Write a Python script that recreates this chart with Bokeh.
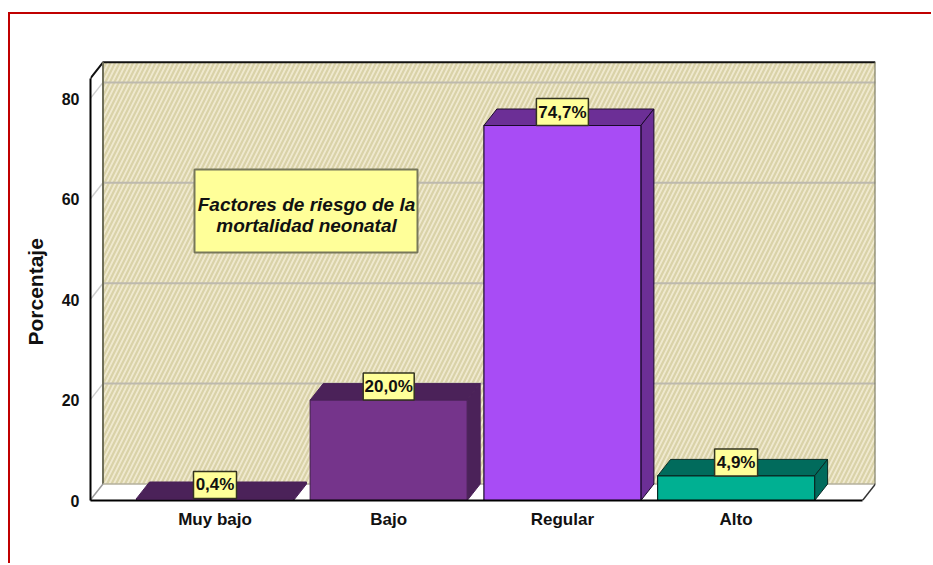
from bokeh.plotting import figure
from bokeh.models import Range1d, FixedTicker, Title
from bokeh.core.properties import value
from bokeh.embed import file_html
from bokeh.resources import INLINE

categories = ["Muy bajo", "Bajo", "Regular", "Alto"]
percent = [0.4, 20.0, 74.7, 4.9]
labels = ["0,4%", "20,0%", "74,7%", "4,9%"]
front_colors = ["#75348b", "#75348b", "#a84cf5", "#00b092"]
shade_colors = ["#4b2259", "#4b2259", "#6c2f96", "#016b5c"]
edge_colors = ["#4b2259", "#4b2259", "#1a0a2a", "#0a2a25"]
y_ticks = [0, 20, 40, 60, 80]
title_lines = ["Factores de riesgo de la", "mortalidad neonatal"]

# scale set-up: pixels per data unit
PX_X, PX_Y = 173.7, 5.02
X0_PX, FRAME_L, FRAME_R, FRAME_T, FRAME_B = 214.5, 90, 875, 60, 500
xs_lo, xs_hi = (FRAME_L - X0_PX) / PX_X, (FRAME_R - X0_PX) / PX_X
y_hi = (FRAME_B - FRAME_T) / PX_Y
DX, DY = 13 / PX_X, 16.5 / PX_Y       # 3D depth
HALF = 78.5 / PX_X
WALL_TOP = 84.0
X_LEFT = (89.5 - X0_PX) / PX_X
X_RIGHT = (862 - X0_PX) / PX_X

OX, OY = 10, 14          # page position of the canvas, inside the red border
FW, FH = 923, 551
p = figure(width=FW, height=FH, output_backend="svg", toolbar_location=None,
           x_range=Range1d(xs_lo, xs_hi), y_range=Range1d(0, y_hi),
           min_border_left=FRAME_L - OX, min_border_right=FW - (FRAME_R - OX),
           min_border_top=FRAME_T - OY, min_border_bottom=FH - (FRAME_B - OY),
           background_fill_color="white", border_fill_color="white")
p.styles = {"margin-left": "8px", "margin-top": "12px",
            "border-left": "2px solid #c00000", "border-top": "2px solid #c00000"}
p.outline_line_color = None
p.grid.visible = False

# axes
p.yaxis.ticker = FixedTicker(ticks=y_ticks)
p.yaxis.bounds = (0, WALL_TOP)
p.yaxis.major_label_text_font = "Liberation Sans"
p.yaxis.major_label_text_font_size = "16px"
p.yaxis.major_label_text_font_style = "bold"
p.yaxis.major_label_text_color = "#111111"
p.yaxis.major_label_standoff = 5
p.yaxis.major_tick_line_color = None
p.yaxis.minor_tick_line_color = None
p.yaxis.axis_line_color = "black"
p.yaxis.axis_line_width = 2

p.xaxis.ticker = FixedTicker(ticks=list(range(len(categories))))
p.xaxis.major_label_overrides = {i: c for i, c in enumerate(categories)}
p.xaxis.bounds = (X_LEFT, X_RIGHT)
p.xaxis.major_label_text_font = "Liberation Sans"
p.xaxis.major_label_text_font_size = "17px"
p.xaxis.major_label_text_font_style = "bold"
p.xaxis.major_label_text_color = "#111111"
p.xaxis.major_label_standoff = 3
p.xaxis.major_tick_line_color = None
p.xaxis.minor_tick_line_color = None
p.xaxis.axis_line_color = "black"
p.xaxis.axis_line_width = 2

# back wall
wall_l, wall_r = X_LEFT + DX, X_RIGHT + DX
wall_b, wall_t = DY, WALL_TOP + DY
p.quad(left=[wall_l], right=[wall_r], bottom=[wall_b], top=[wall_t],
       fill_color="#efe9cf", line_color=None,
       hatch_pattern="right_diagonal_line", hatch_color="#d9d2a8",
       hatch_weight=2.2, hatch_scale=9)

# gridlines on the wall and on the left side
g = [t for t in y_ticks if t > 0]
p.segment([wall_l] * len(g), [t + DY for t in g], [wall_r] * len(g), [t + DY for t in g],
          line_color="#bdb9ae", line_width=2)
p.segment([X_LEFT] * len(g), g, [wall_l] * len(g), [t + DY for t in g],
          line_color="#cfcfcf", line_width=1.5)

# frame edges
p.line([X_LEFT, wall_l, wall_r], [WALL_TOP, wall_t, wall_t], line_color="#111111", line_width=2)
p.line([wall_l, wall_l], [wall_b, wall_t], line_color="#6f6f5a", line_width=2)
p.line([wall_l, wall_r], [wall_b, wall_b], line_color="#b5b19c", line_width=1.5)
p.line([wall_r, wall_r], [wall_b, wall_t], line_color="#6f6f5a", line_width=2)
p.line([X_LEFT, wall_l], [0, wall_b], line_color="#9a9a9a", line_width=1.5)
p.line([X_RIGHT, wall_r], [0, wall_b], line_color="#333333", line_width=1.5)

# 3D bars
for i, v in enumerate(percent):
    l, r = i - HALF, i + HALF
    p.patch([l, r, r + DX, l + DX], [v, v, v + DY, v + DY],
            fill_color=shade_colors[i], line_color=edge_colors[i], line_width=1)
    p.patch([r, r + DX, r + DX, r], [0, DY, v + DY, v],
            fill_color=shade_colors[i], line_color=edge_colors[i], line_width=1)
    p.quad(left=[l], right=[r], bottom=[0], top=[v],
           fill_color=front_colors[i], line_color=edge_colors[i], line_width=1.2)

# value labels
box_w = [43 / PX_X, 51 / PX_X, 52 / PX_X, 43 / PX_X]
box_h = 27 / PX_Y
p.quad(left=[i - box_w[i] / 2 for i in range(4)], right=[i + box_w[i] / 2 for i in range(4)],
       bottom=percent, top=[v + box_h for v in percent],
       fill_color="#ffff99", line_color="#33331f", line_width=1.5)
p.text(x=list(range(4)), y=[v + box_h / 2 for v in percent], text=labels,
       text_font=value("Liberation Sans"), text_font_style="bold", text_font_size="17px",
       text_color="#111111", text_align="center", text_baseline="middle")

# title box
def xd(px): return (px - X0_PX) / PX_X
def yd(px): return (FRAME_B - px) / PX_Y
p.quad(left=[xd(194)], right=[xd(417)], bottom=[yd(252)], top=[yd(169)],
       fill_color="#ffff99", line_color="#77775a", line_width=2)
p.text(x=[xd(306), xd(306)], y=[yd(204), yd(225)], text=title_lines,
       text_font=value("Liberation Sans"), text_font_style="bold italic", text_font_size="19px",
       text_color="#111111", text_align="center", text_baseline="middle")

# y-axis title, placed off-centre as in the reference
p.add_layout(Title(text="Porcentaje", align="left", offset=155, standoff=22, vertical_align="middle",
                   text_font="Liberation Sans", text_font_style="bold", text_font_size="21px",
                   text_color="#111111"), "left")

open("out.html", "w").write(file_html(p, INLINE))
